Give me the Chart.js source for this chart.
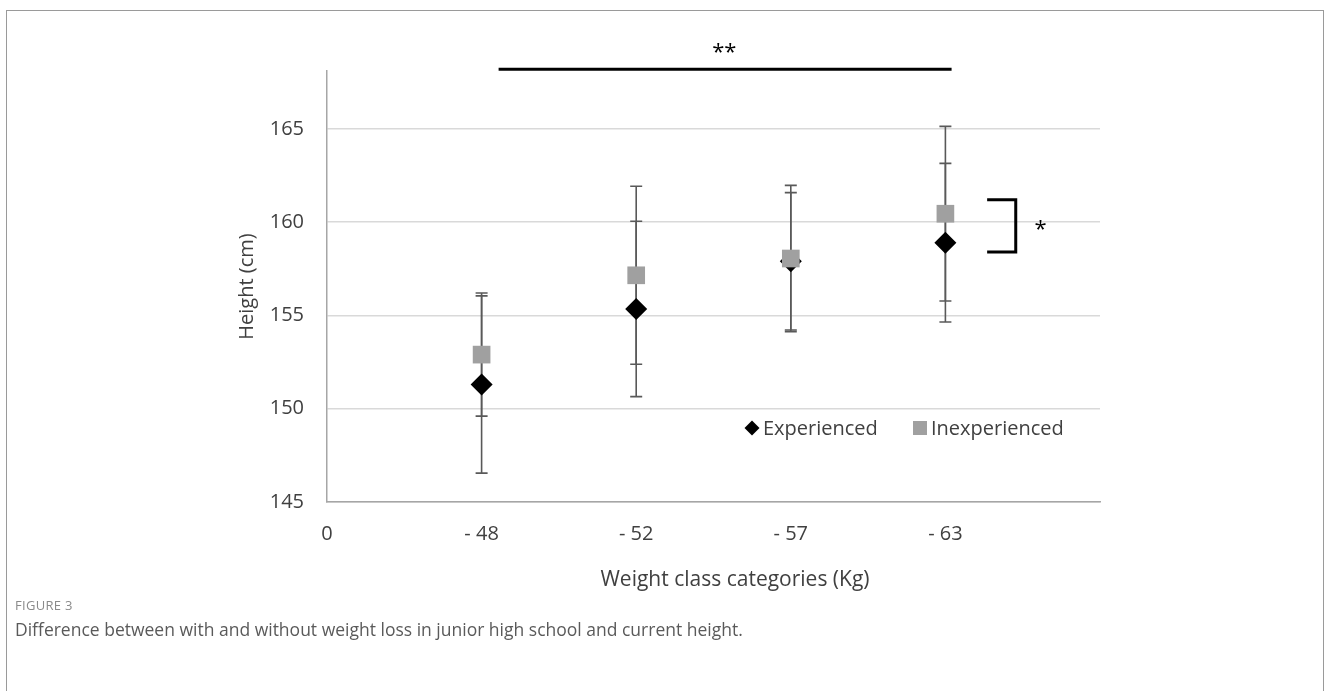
<!DOCTYPE html>
<html>
<head>
<meta charset="utf-8">
<script src="https://cdn.jsdelivr.net/npm/chart.js@4.4.1/dist/chart.umd.min.js"></script>
<style>
  body { margin: 0; background: #fff; width: 1330px; height: 691px; overflow: hidden; position: relative; font-family: "Open Sans", sans-serif; }
  #frame { position: absolute; left: 6px; top: 10px; width: 1316px; height: 720px; border: 1.5px solid #9a9a9a; }
  #wrap { position: absolute; left: 0; top: 0; width: 1330px; height: 620px; }
  .fig-label { position: absolute; left: 15px; top: 596px; font-size: 13px; letter-spacing: 0.3px; color: #8a8a8a; }
  .fig-caption { position: absolute; left: 15px; top: 617px; font-size: 17.5px; color: #5a5a5a; }
</style>
</head>
<body>
<div id="frame"></div>
<div id="wrap"><canvas id="chart" width="1330" height="620"></canvas></div>
<div class="fig-label">FIGURE 3</div>
<div class="fig-caption">Difference between with and without weight loss in junior high school and current height.</div>

<script>
// tick labels of the x axis (position 0..4)
const xLabels = ['0', '- 48', '- 52', '- 57', '- 63'];
// weight class positions on the x axis
const xPos = [1, 2, 3, 4];

// Experienced: mean height and SD
const expMean = [151.3, 155.35, 157.9, 158.9];
const expSD = [4.75, 4.7, 3.68, 4.25];

// Inexperienced: mean height and SD
const inexpMean = [152.9, 157.15, 158.05, 160.45];
const inexpSD = [3.3, 4.77, 3.92, 4.68];

const FONT = '"Open Sans", sans-serif';
const TEXT = '#404040';

function toPoints(means) {
    return xPos.map((x, i) => ({ x: x, y: means[i] }));
}

// error bars drawn under the markers
const errorBars = {
    id: 'errorBars',
    beforeDatasetsDraw(chart) {
        const ctx = chart.ctx;
        const xs = chart.scales.x;
        const ys = chart.scales.y;
        ctx.save();
        ctx.strokeStyle = '#595959';
        ctx.lineWidth = 1.6;
        chart.data.datasets.forEach(ds => {
            ds.sd.forEach((sd, i) => {
                const px = xs.getPixelForValue(xPos[i]);
                const top = ys.getPixelForValue(ds.mean[i] + sd);
                const bot = ys.getPixelForValue(ds.mean[i] - sd);
                ctx.beginPath();
                ctx.moveTo(px, top);
                ctx.lineTo(px, bot);
                ctx.moveTo(px - 6, top);
                ctx.lineTo(px + 6, top);
                ctx.moveTo(px - 6, bot);
                ctx.lineTo(px + 6, bot);
                ctx.stroke();
            });
        });
        ctx.restore();
    }
};

// significance marks, legend and x axis title
const annotations = {
    id: 'annotations',
    afterDraw(chart) {
        const ctx = chart.ctx;
        const xs = chart.scales.x;
        const ys = chart.scales.y;
        const X = v => xs.getPixelForValue(v);
        const Y = v => ys.getPixelForValue(v);
        ctx.save();

        // ** line over all classes
        ctx.strokeStyle = '#000';
        ctx.lineWidth = 3;
        ctx.beginPath();
        ctx.moveTo(X(1.11), Y(168.2));
        ctx.lineTo(X(4.04), Y(168.2));
        ctx.stroke();
        ctx.fillStyle = '#000';
        ctx.font = '22px ' + FONT;
        ctx.textAlign = 'center';
        ctx.textBaseline = 'middle';
        ctx.fillText('**', X(2.57), Y(169.2) + 2);

        // * bracket at -63
        ctx.beginPath();
        ctx.moveTo(X(4.27), Y(161.2));
        ctx.lineTo(X(4.455), Y(161.2));
        ctx.lineTo(X(4.455), Y(158.4));
        ctx.lineTo(X(4.27), Y(158.4));
        ctx.stroke();
        ctx.fillText('*', X(4.615), Y(159.8) + 4);

        // legend
        const ly = 428;
        ctx.beginPath();
        ctx.moveTo(752, ly - 7.5);
        ctx.lineTo(759.5, ly);
        ctx.lineTo(752, ly + 7.5);
        ctx.lineTo(744.5, ly);
        ctx.closePath();
        ctx.fill();
        ctx.fillStyle = '#a0a0a0';
        ctx.fillRect(913, ly - 7, 14, 14);
        ctx.fillStyle = TEXT;
        ctx.font = '20px ' + FONT;
        ctx.textAlign = 'left';
        ctx.fillText('Experienced', 763, ly + 1);
        ctx.fillText('Inexperienced', 931, ly + 1);

        // x axis title
        ctx.font = '21px ' + FONT;
        ctx.textAlign = 'center';
        ctx.fillText('Weight class categories (Kg)', 735, 580);
        ctx.restore();
    }
};

new Chart(document.getElementById('chart'), {
    type: 'scatter',
    data: {
        datasets: [
            {
                label: 'Inexperienced',
                data: toPoints(inexpMean),
                mean: inexpMean,
                sd: inexpSD,
                pointStyle: 'rect',
                pointRadius: 12.5,
                backgroundColor: '#a0a0a0',
                borderWidth: 0,
                order: 0
            },
            {
                label: 'Experienced',
                data: toPoints(expMean),
                mean: expMean,
                sd: expSD,
                pointStyle: 'rectRot',
                pointRadius: 11,
                backgroundColor: '#000000',
                borderWidth: 0,
                order: 1
            }
        ]
    },
    options: {
        responsive: false,
        animation: false,
        events: [],
        layout: { padding: { left: 235, right: 230, top: 71, bottom: 0 } },
        plugins: {
            legend: { display: false },
            tooltip: { enabled: false }
        },
        scales: {
            x: {
                type: 'linear',
                min: 0,
                max: 5,
                afterFit: s => { s.height = 118; },
                grid: { display: false, drawTicks: false },
                border: { display: true, color: '#a6a6a6', width: 1.5 },
                ticks: {
                    stepSize: 1,
                    padding: 20,
                    color: TEXT,
                    font: { family: FONT, size: 20 },
                    callback: v => xLabels[v] !== undefined ? xLabels[v] : ''
                }
            },
            y: {
                min: 145,
                max: 168.1,
                afterFit: s => { s.width = 92; },
                grid: { color: '#d9d9d9', lineWidth: 1.5, drawTicks: false },
                border: { display: true, color: '#a6a6a6', width: 1.5 },
                ticks: {
                    stepSize: 5,
                    includeBounds: false,
                    padding: 23,
                    color: TEXT,
                    font: { family: FONT, size: 20 }
                },
                title: {
                    display: true,
                    text: 'Height (cm)',
                    color: TEXT,
                    padding: 0,
                    font: { family: FONT, size: 20 }
                }
            }
        }
    },
    plugins: [errorBars, annotations]
});
</script>
</body>
</html>
